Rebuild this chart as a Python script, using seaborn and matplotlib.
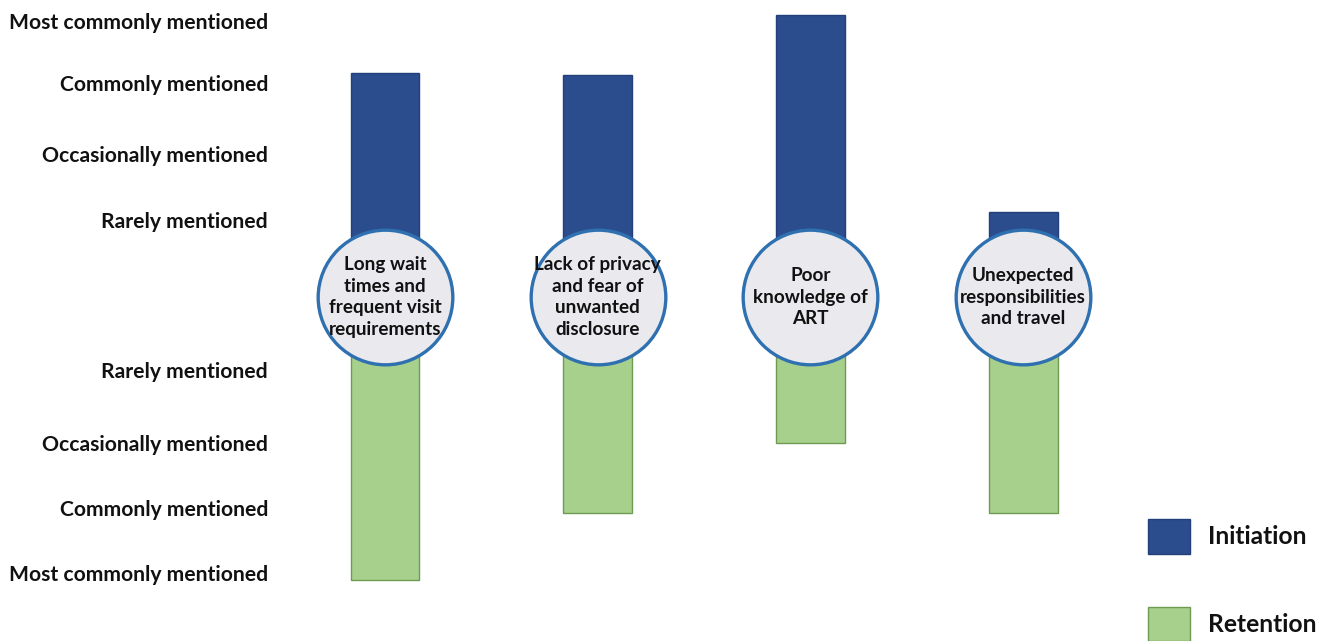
"""
Barriers to ART initiation and retention, diverging bars with labelled circles
"""
import pandas as pd
import matplotlib.pyplot as plt
from matplotlib.patches import Patch
import seaborn as sns

# data
barriers = [
    "Long wait\ntimes and\nfrequent visit\nrequirements",
    "Lack of privacy\nand fear of\nunwanted\ndisclosure",
    "Poor\nknowledge of\nART",
    "Unexpected\nresponsibilities\nand travel",
]
levels = ["Rarely mentioned", "Occasionally mentioned",
          "Commonly mentioned", "Most commonly mentioned"]
# scores on the level scale (1 = rarely ... 4 = most commonly)
initiation = [3.12, 3.09, 4.0, 1.02]
retention = [4.02, 3.0, 1.94, 3.0]

BLUE = "#2B4C8D"
BLUE_EDGE = "#22407A"
GREEN = "#A7D08C"
GREEN_EDGE = "#6E9A52"
RING = "#2E70B0"
FACE = "#E9E9EE"

sns.set_theme(style="white")
plt.rcParams['font.family'] = ['Lato', 'DejaVu Sans']

fig = plt.figure(figsize=(13.25, 6.41), dpi=100)
ax = fig.add_axes([280 / 1325, 0, 850 / 1325, 1])

BAR_OFF = 0.27
top_ticks = [1.17, 2.17, 3.24, 4.18]
bottom_ticks = [1.11, 2.21, 3.2, 4.18]

df = pd.DataFrame({
    "barrier": barriers,
    "init": [v + BAR_OFF for v in initiation],
    "ret": [-(v + BAR_OFF) for v in retention],
})

sns.barplot(data=df, x="barrier", y="init", color=BLUE, width=0.324,
            saturation=1, edgecolor=BLUE_EDGE, linewidth=1, ax=ax, zorder=2)
sns.barplot(data=df, x="barrier", y="ret", color=GREEN, width=0.324,
            saturation=1, edgecolor=GREEN_EDGE, linewidth=1, ax=ax, zorder=2)

# circles with the barrier names
xs = list(range(len(barriers)))
ax.scatter(xs, [0] * len(xs), s=9400, facecolor=FACE, edgecolor=RING,
           linewidth=2.4, zorder=3)
for x, name in zip(xs, barriers):
    ax.text(x, 0, name, ha="center", va="center", fontsize=13.6,
            fontweight="bold", color="#111111", linespacing=1.34, zorder=4)

# level labels on both sides
ax.set_yticks(top_ticks + [-t for t in bottom_ticks])
ax.set_yticklabels(levels + levels, fontsize=15.2, fontweight="bold", color="#111111")
ax.tick_params(axis="y", length=0, pad=8.6)
ax.set_xticks([])
ax.set_xlabel("")
ax.set_ylabel("")
ax.set_xlim(-0.4937, 3.5026)
ax.set_ylim(-5.21, 4.5)
sns.despine(ax=ax, left=True, bottom=True)

handles = [Patch(facecolor=BLUE, edgecolor=BLUE_EDGE, label="Initiation"),
           Patch(facecolor=GREEN, edgecolor=GREEN_EDGE, label="Retention")]
leg = fig.legend(handles=handles, loc="upper left",
                 bbox_to_anchor=(1148 / 1325, 1 - 519 / 641),
                 frameon=False, borderpad=0, borderaxespad=0,
                 handlelength=1.7, handleheight=1.8, handletextpad=0.73,
                 labelspacing=2.15, prop={"size": 17.7, "weight": "bold"})
for t in leg.get_texts():
    t.set_color("#111111")

fig.savefig("out.png", dpi=100)
